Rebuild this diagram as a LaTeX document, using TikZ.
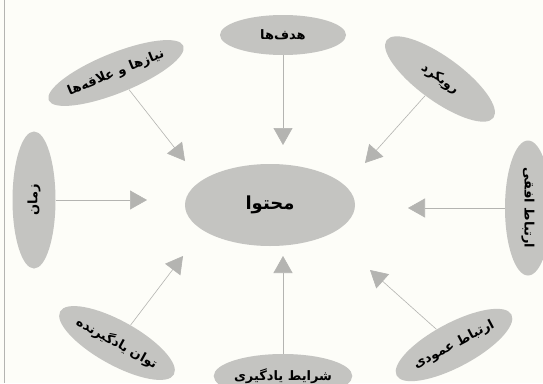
\documentclass[tikz,border=0pt]{standalone}
\usepackage{fontspec}
\usepackage{tikz}
\usetikzlibrary{arrows.meta,shapes.geometric}
\newfontfamily\farsi[Script=Arabic]{DejaVu Sans}
\TeXXeTstate=1
\definecolor{paper}{RGB}{253,253,248}
\definecolor{bubblegray}{RGB}{196,196,193}
\definecolor{arrowgray}{RGB}{180,180,177}
\newcommand{\fa}[1]{{\farsi\bfseries\beginR #1\endR}}

\begin{document}
\begin{tikzpicture}[
            x = 1pt, y = -1pt, % pixel grid, y downwards
            > = {Triangle[length=17pt,width=19pt]}, % big gray heads
            bubble/.style = {shape=ellipse, fill=bubblegray, inner sep=0pt,
                             font=\fontsize{13}{15}\selectfont},
            semithick
        ]

\fill[paper] (0,0) rectangle (543,383);
\clip (0,0) rectangle (543,383);
\draw[arrowgray, line width=1pt] (4,0) -- (4,383);

\node[bubble, minimum width=170pt, minimum height=82pt, font=\fontsize{18}{20}\selectfont] (M) at (270,205) {\fa{محتوا}};

\node[bubble, minimum width=126pt, minimum height=40pt] (H) at (283,35) {\fa{هدف‌ها}};
\node[bubble, minimum width=128pt, minimum height=40pt, rotate=22] (N) at (116,73) {\fa{نیازها و علاقه‌ها}};
\node[bubble, minimum width=132pt, minimum height=44pt, rotate=-36] (R) at (440,79) {\fa{رویکرد}};
\node[bubble, minimum width=137pt, minimum height=43pt, rotate=90] (Z) at (34,200) {\fa{زمان}};
\node[bubble, minimum width=135pt, minimum height=46pt, rotate=-90] (O) at (528,208) {\fa{ارتباط افقی}};
\node[bubble, minimum width=130pt, minimum height=44pt, rotate=-29] (T) at (117,343) {\fa{توان یادگیرنده}};
\node[bubble, minimum width=130pt, minimum height=44pt] (S) at (283,376) {\fa{شرایط یادگیری}};
\node[bubble, minimum width=130pt, minimum height=44pt, rotate=28] (A) at (454,345) {\fa{ارتباط عمودی}};

% arrow tips stop short of the centre
\coordinate (tH) at (283,145);
\coordinate (tN) at (185,161);
\coordinate (tR) at (365,163);
\coordinate (tZ) at (147,200);
\coordinate (tO) at (408,208);
\coordinate (tT) at (183,256);
\coordinate (tS) at (283,256);
\coordinate (tA) at (370,270);

 \path [->, draw=arrowgray, fill=arrowgray] (H) edge (tH);
 \path [->, draw=arrowgray, fill=arrowgray] (N) edge (tN);
 \path [->, draw=arrowgray, fill=arrowgray] (R) edge (tR);
 \path [->, draw=arrowgray, fill=arrowgray] (Z) edge (tZ);
 \path [->, draw=arrowgray, fill=arrowgray] (O) edge (tO);
 \path [->, draw=arrowgray, fill=arrowgray] (T) edge (tT);
 \path [->, draw=arrowgray, fill=arrowgray] (S) edge (tS);
 \path [->, draw=arrowgray, fill=arrowgray] (A) edge (tA);
\end{tikzpicture}
\end{document}
